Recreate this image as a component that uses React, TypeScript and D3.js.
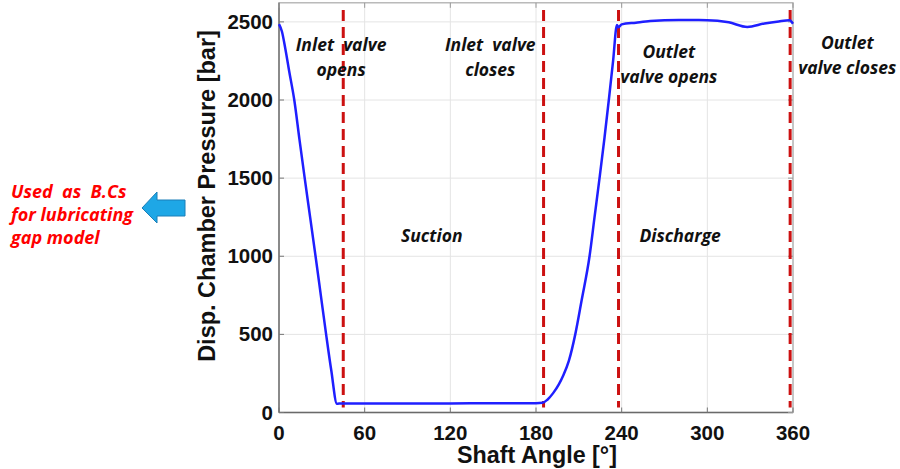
import React from "react";
import * as d3 from "d3";

const angles = [0, 2, 4.4, 7.2, 10.7, 14.3, 18, 21.8, 25.6, 29.3, 33, 36.6, 40.6, 42, 60, 90, 120, 150, 180, 184.5, 188, 192, 196, 199, 203, 207.5, 212, 217.5, 221, 224.5, 228, 231, 234, 236.7, 237.8, 240, 250, 260, 280, 300, 315, 328, 340, 350, 357.5, 360];
const pressures = [2486, 2440, 2330, 2181, 2000, 1750, 1500, 1250, 1000, 750, 500, 270, 56, 57, 57, 57, 58, 59, 60, 62, 82, 124, 180, 235, 330, 500, 720, 1000, 1250, 1500, 1760, 2000, 2250, 2480, 2465, 2484, 2495, 2505, 2512, 2511, 2497, 2468, 2490, 2503, 2510, 2488];

const xTicks = [0, 60, 120, 180, 240, 300, 360];
const yTicks = [0, 500, 1000, 1500, 2000, 2500];
const valveAngles = [45, 185.3, 237.8, 358];

const annotations = [
  { lines: ["Inlet  valve", "opens"], angle: 43.5, top: 51 },
  { lines: ["Inlet  valve", "closes"], angle: 148, top: 51 },
  { lines: ["Outlet", "valve opens"], angle: 273, top: 58 },
  { lines: ["Outlet", "valve closes"], angle: 398, top: 49 },
];
const phases = [
  { label: "Suction", angle: 107, p: 1090 },
  { label: "Discharge", angle: 281, p: 1090 },
];
const noteLines = ["Used  as  B.Cs", "for lubricating", "gap model"];

export default function App() {
  const W = 900, H = 469;
  const x = d3.scaleLinear().domain([0, 360]).range([279, 793]);
  const y = d3.scaleLinear().domain([0, 2640]).range([412.5, 0]);
  const plotTop = y(2622);
  const pts: [number, number][] = angles.map((a, i) => [a, pressures[i]]);
  const line = d3
    .line<[number, number]>()
    .x((d) => x(d[0]))
    .y((d) => y(d[1]))
    .curve(d3.curveMonotoneX);
  const axisFont = "'Liberation Sans', Arial, sans-serif";
  const noteFont = "'Open Sans', 'Noto Sans', sans-serif";
  return (
    <svg width={W} height={H} style={{ position: "absolute", left: 0, top: 0, background: "#fff" }}>
      {/* grid */}
      {xTicks.map((t) => (
        <line key={"gx" + t} x1={x(t)} x2={x(t)} y1={plotTop} y2={y(0)} stroke="#e4e4e4" strokeWidth={1} />
      ))}
      {yTicks.map((t) => (
        <line key={"gy" + t} x1={x(0)} x2={x(360)} y1={y(t)} y2={y(t)} stroke="#e4e4e4" strokeWidth={1} />
      ))}
      {/* frame */}
      <rect x={x(0)} y={plotTop} width={x(360) - x(0)} height={y(0) - plotTop} fill="none" stroke="#a8a8a8" strokeWidth={1.2} />
      <line x1={x(0)} x2={x(0)} y1={plotTop} y2={y(0)} stroke="#6a6a6a" strokeWidth={1.3} />
      <line x1={x(0)} x2={x(360)} y1={y(0)} y2={y(0)} stroke="#6a6a6a" strokeWidth={1.3} />
      {xTicks.map((t) => (
        <g key={"tx" + t}>
          <line x1={x(t)} x2={x(t)} y1={y(0)} y2={y(0) - 5} stroke="#777" />
          <line x1={x(t)} x2={x(t)} y1={plotTop} y2={plotTop + 5} stroke="#999" />
          <text x={x(t)} y={y(0) + 27} textAnchor="middle" fontFamily={axisFont} fontWeight="bold" fontSize={20.5} fill="#111">
            {t}
          </text>
        </g>
      ))}
      {yTicks.map((t) => (
        <g key={"ty" + t}>
          <line x1={x(0)} x2={x(0) + 5} y1={y(t)} y2={y(t)} stroke="#777" />
          <line x1={x(360)} x2={x(360) - 5} y1={y(t)} y2={y(t)} stroke="#999" />
          <text x={x(0) - 6} y={y(t) + 7} textAnchor="end" fontFamily={axisFont} fontWeight="bold" fontSize={20.5} fill="#111">
            {t}
          </text>
        </g>
      ))}
      {/* valve lines */}
      {valveAngles.map((a) => (
        <line key={"v" + a} x1={x(a)} x2={x(a)} y1={10} y2={y(0) - 5} stroke="#cc1111" strokeWidth={3} strokeDasharray="11,6" />
      ))}
      {/* curve */}
      <path d={line(pts) || ""} fill="none" stroke="#1f1fff" strokeWidth={2.5} strokeLinejoin="round" />
      {/* annotations */}
      {annotations.map((an, i) => (
        <text key={"an" + i} fontFamily={noteFont} fontStyle="italic" fontWeight="bold" fontSize={17.5} fill="#111" textAnchor="middle">
          {an.lines.map((l, j) => (
            <tspan key={j} x={x(an.angle)} y={an.top + j * 25} style={{ whiteSpace: "pre" }}>
              {l}
            </tspan>
          ))}
        </text>
      ))}
      {phases.map((p) => (
        <text key={p.label} x={x(p.angle)} y={y(p.p)} fontFamily={noteFont} fontStyle="italic" fontWeight="bold" fontSize={17.5} fill="#111" textAnchor="middle">
          {p.label}
        </text>
      ))}
      {/* axis titles */}
      <text x={537} y={463} textAnchor="middle" fontFamily={axisFont} fontWeight="bold" fontSize={23.3} fill="#111">
        Shaft Angle [°]
      </text>
      <text transform="translate(215,196) rotate(-90)" textAnchor="middle" fontFamily={axisFont} fontWeight="bold" fontSize={23.5} fill="#111">
        Disp. Chamber Pressure [bar]
      </text>
      {/* left note */}
      <text fontFamily={noteFont} fontStyle="italic" fontWeight="bold" fontSize={18} fill="#ff0000">
        {noteLines.map((l, j) => (
          <tspan key={j} x={11} y={198 + j * 23} style={{ whiteSpace: "pre" }}>
            {l}
          </tspan>
        ))}
      </text>
      {/* arrow */}
      <path d="M142,208 L157,192 L157,200 L185,200 L185,216 L157,216 L157,223 Z" fill="#1ea7e6" stroke="#1b7fb8" strokeWidth={1} />
    </svg>
  );
}
